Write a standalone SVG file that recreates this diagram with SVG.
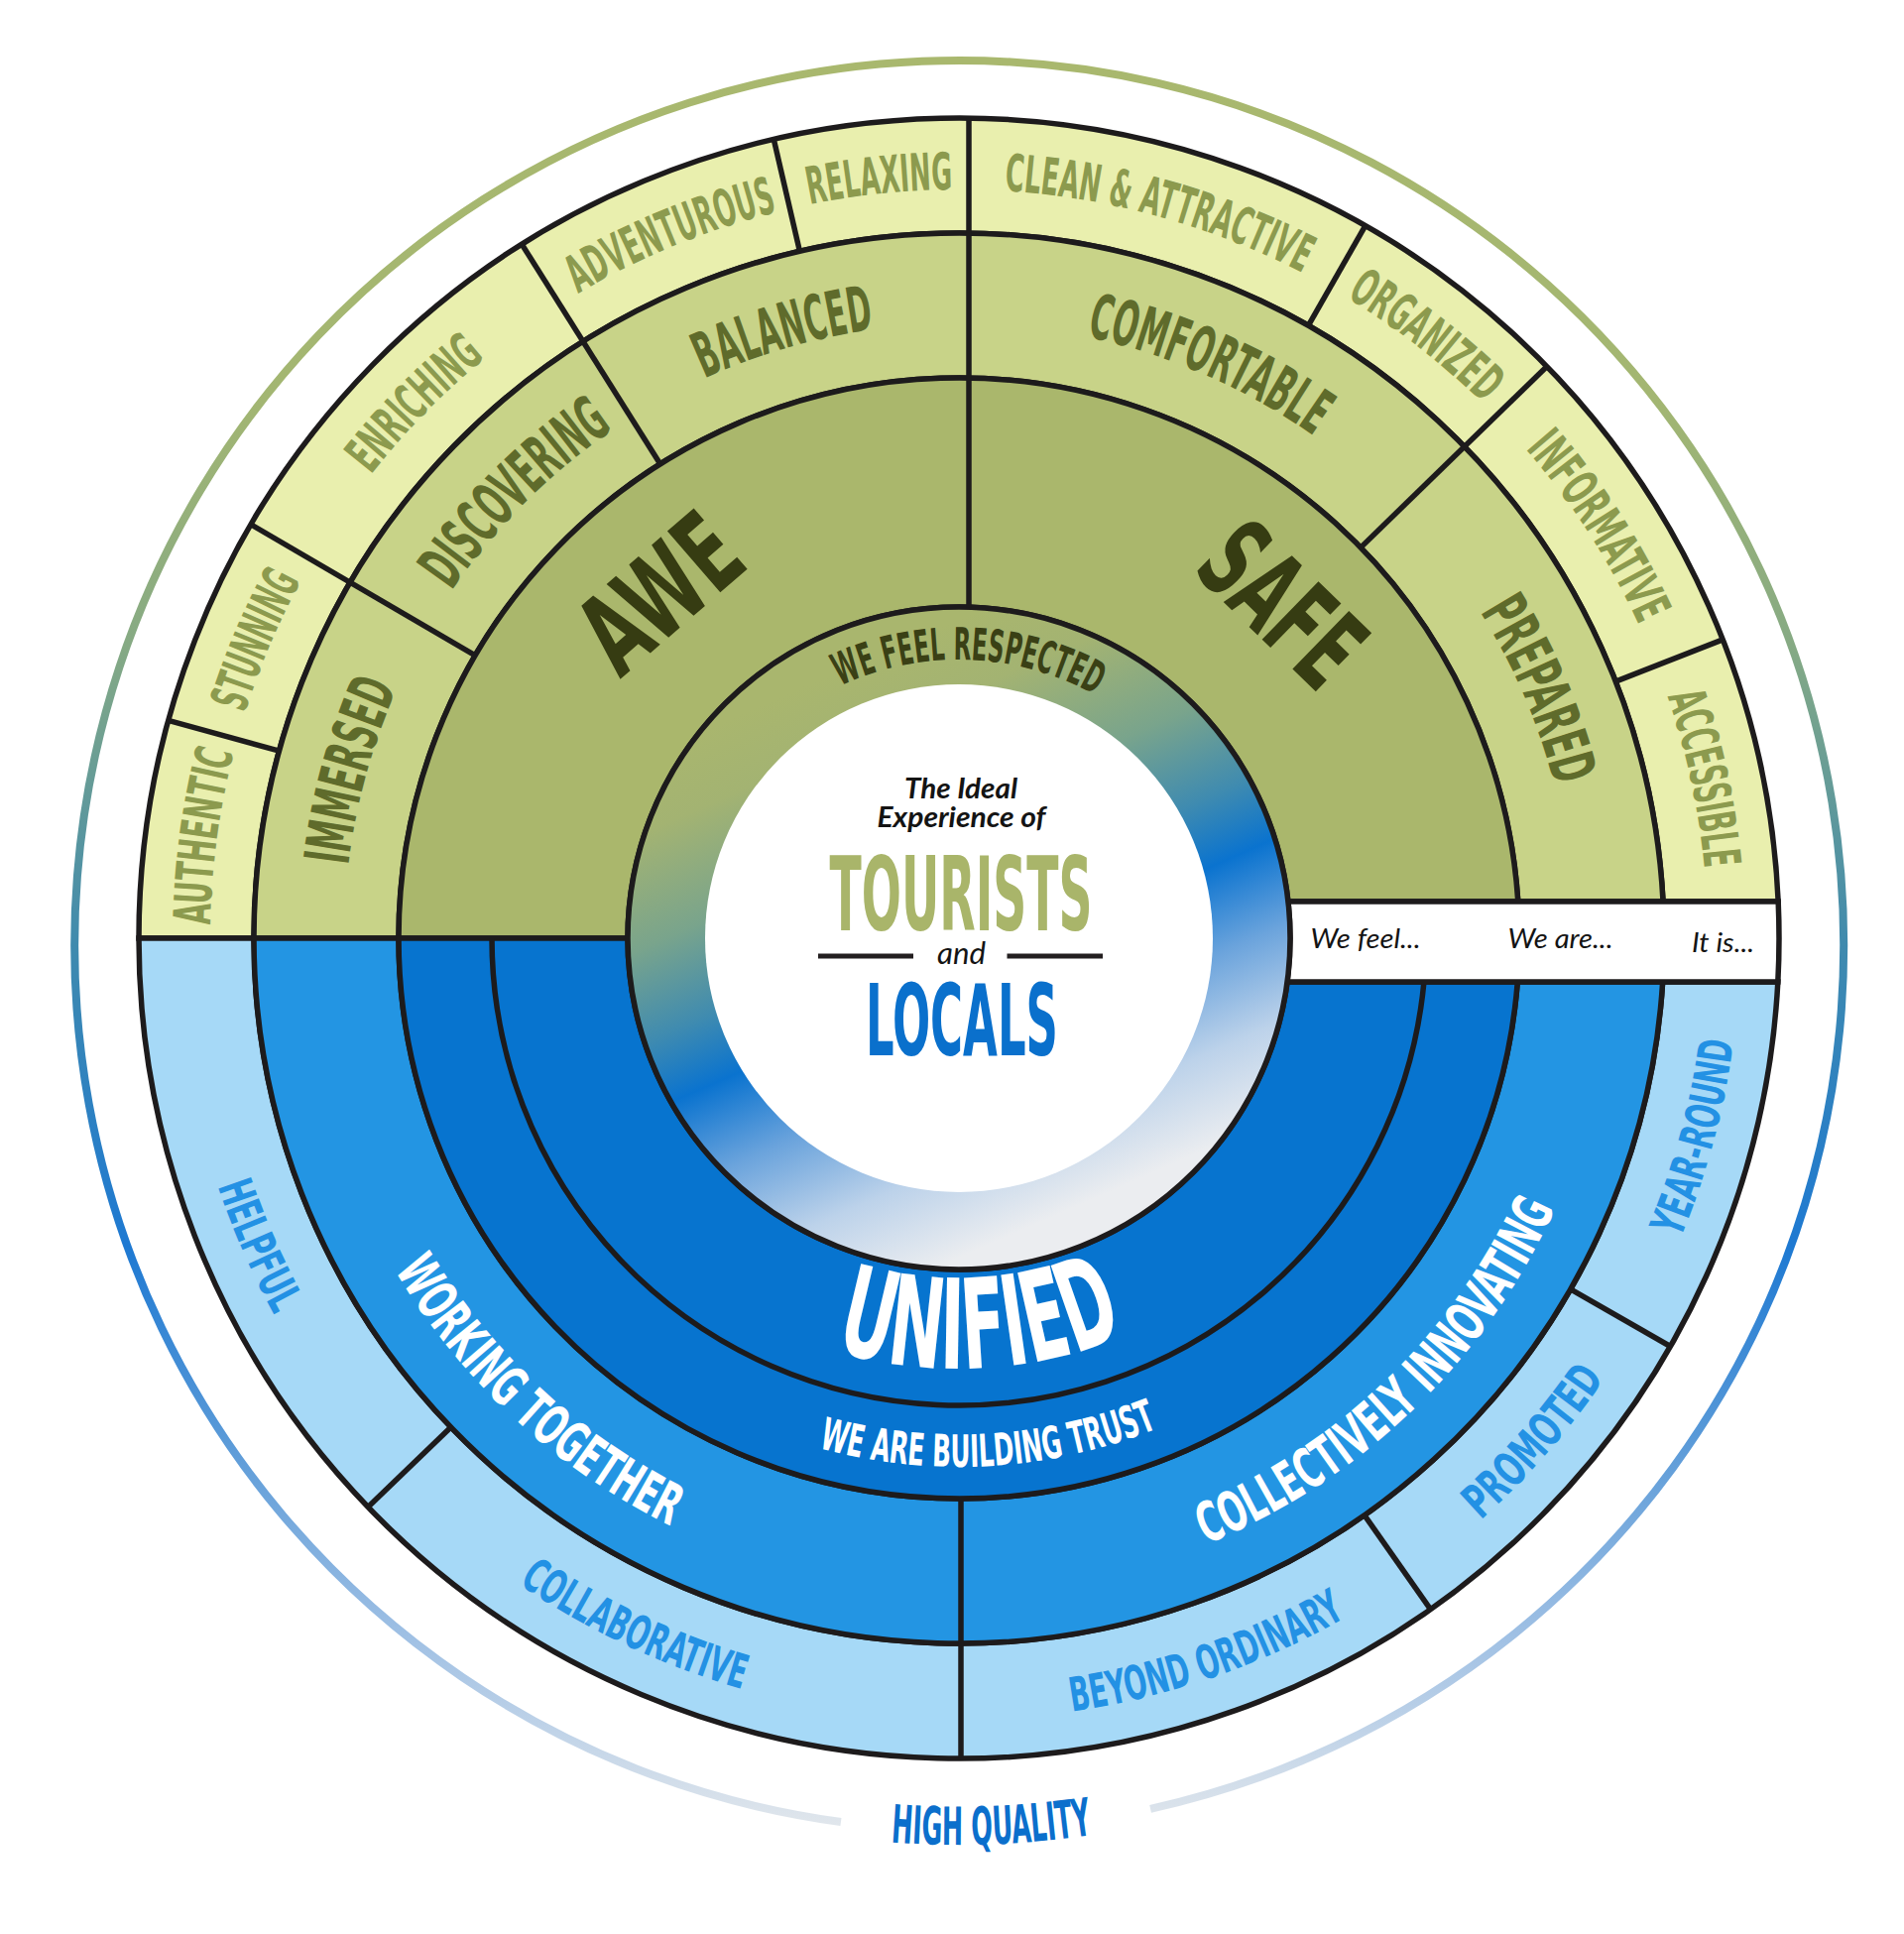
<svg xmlns="http://www.w3.org/2000/svg" width="1920" height="1950" viewBox="0 0 1920 1950">
<defs>
<style>
.ln{fill:none;stroke:#1d1b1c;stroke-width:5.5;stroke-linecap:butt}
.band{stroke:#1d1b1c;stroke-width:5.5;stroke-linejoin:miter}
.g3{fill:#e9efae}.g2{fill:#c8d388}.g1{fill:#aab76c}
.b3{fill:#a6d9f7}.b2{fill:#2395e3}.b1{fill:#0774cf}
.t{font-family:"Liberation Sans Narrow","DejaVu Sans Condensed","Liberation Sans",Arial,sans-serif;font-weight:700;text-anchor:middle}
.tg3{fill:#8c9a4e;font-size:52px}
.tg2{fill:#5f6b2b;font-size:63px}
.tg1{fill:#363c12;font-size:112px}
.tb3{fill:#2391e4;font-size:47.5px}
.tw{fill:#ffffff}
.it{font-family:Lato,"Open Sans","Liberation Sans",sans-serif;font-style:italic;fill:#141414}
</style>
<linearGradient id="ringGrad" gradientUnits="userSpaceOnUse" x1="849" y1="675.5" x2="1085" y2="1216.5">
<stop offset="0" stop-color="#a9b66e"/>
<stop offset="0.12" stop-color="#a3b372"/>
<stop offset="0.3" stop-color="#79a48c"/>
<stop offset="0.45" stop-color="#3f8bb0"/>
<stop offset="0.56" stop-color="#0a73cf"/>
<stop offset="0.7" stop-color="#6aa3dc"/>
<stop offset="0.85" stop-color="#bcd2ea"/>
<stop offset="1" stop-color="#ebedf0"/>
</linearGradient>
<linearGradient id="arcGrad" gradientUnits="userSpaceOnUse" x1="0" y1="62" x2="0" y2="1845">
<stop offset="0" stop-color="#a9b86e"/>
<stop offset="0.19" stop-color="#a3b672"/>
<stop offset="0.33" stop-color="#86aa84"/>
<stop offset="0.5" stop-color="#3f8aae"/>
<stop offset="0.67" stop-color="#1e79d2"/>
<stop offset="0.78" stop-color="#5a9ad8"/>
<stop offset="0.89" stop-color="#9fc0e4"/>
<stop offset="1" stop-color="#e2e7ec"/>
</linearGradient>
<path id="p-authentic" d="M 229.32 1106.84 A 755 755 0 0 1 298.53 595.05"/>
<path id="p-stunning" d="M 213.04 906.48 A 755 755 0 0 1 414.83 431.09"/>
<path id="p-enriching" d="M 279.98 632.91 A 755 755 0 0 1 641.97 264.55"/>
<path id="p-adventurous" d="M 458.87 387.58 A 755 755 0 0 1 936.70 191.61"/>
<path id="p-relaxing" d="M 636.03 267.42 A 755 755 0 0 1 1149.65 213.42"/>
<path id="p-clean" d="M 841.09 201.57 A 755 755 0 0 1 1456.33 371.03"/>
<path id="p-organized" d="M 1197.81 227.14 A 755 755 0 0 1 1605.87 543.68"/>
<path id="p-informative" d="M 1423.99 345.02 A 755 755 0 0 1 1703.24 778.73"/>
<path id="p-accessible" d="M 1606.58 544.79 A 755 755 0 0 1 1714.83 1049.77"/>
<path id="p-immersed" d="M 348.99 995.72 A 620 620 0 0 1 461.62 586.85"/>
<path id="p-discovering" d="M 396.71 702.75 A 620 620 0 0 1 725.75 374.86"/>
<path id="p-balanced" d="M 600.83 445.68 A 620 620 0 0 1 1008.08 327.37"/>
<path id="p-comfortable" d="M 962.67 326.01 A 620 620 0 0 1 1424.85 527.93"/>
<path id="p-prepared" d="M 1418.96 521.58 A 620 620 0 0 1 1586.03 911.39"/>
<path id="p-respected" d="M 813.96 710.33 A 281 281 0 0 1 1136.11 721.58"/>
<path id="p-unified" d="M 769.97 1332.70 A 434 434 0 0 0 1203.37 1309.98"/>
<path id="p-trust" d="M 744.70 1430.43 A 533 533 0 0 0 1244.31 1401.18"/>
<path id="p-working" d="M 355.71 1194.82 A 660 660 0 0 0 764.68 1574.23"/>
<path id="p-innovating" d="M 1125.55 1586.68 A 660 660 0 0 0 1601.11 1129.02"/>
<path id="p-helpful" d="M 187.97 1064.52 A 788 788 0 0 0 351.62 1438.16"/>
<path id="p-collaborative" d="M 427.57 1520.43 A 788 788 0 0 0 868.24 1727.78"/>
<path id="p-beyond" d="M 980.75 1733.88 A 788 788 0 0 0 1441.23 1575.33"/>
<path id="p-promoted" d="M 1405.36 1600.81 A 788 788 0 0 0 1674.25 1293.91"/>
<path id="p-yearround" d="M 1648.74 1341.19 A 788 788 0 0 0 1754.99 947.38"/>
<path id="p-quality" d="M 688.22 1816.09 A 907 907 0 0 0 1308.23 1793.36"/>
</defs>

<rect width="1920" height="1950" fill="#ffffff"/>

<g id="outer-arc">
<path d="M 1160.1 1823.9 A 892 892 0 1 0 847.95 1837.0" fill="none" stroke="url(#arcGrad)" stroke-width="8"/>
</g>

<g id="bands">
<path class="band g3" d="M 140 946 A 827 827 0 0 1 1793.17 909 L 1677.04 909 A 711 711 0 0 0 256 946 Z"/>
<path class="band g2" d="M 256 946 A 711 711 0 0 1 1677.04 909 L 1530.79 909 A 565 565 0 0 0 402 946 Z"/>
<path class="band g1" d="M 402 946 A 565 565 0 0 1 1530.79 909 L 1298.94 909 A 334 334 0 0 0 633 946 Z"/>
<path class="band b3" d="M 140 946 A 827 827 0 0 0 1792.83 990 L 1676.64 990 A 711 711 0 0 1 256 946 Z"/>
<path class="band b2" d="M 256 946 A 711 711 0 0 0 1676.64 990 L 1530.28 990 A 565 565 0 0 1 402 946 Z"/>
<path class="band b1" d="M 402 946 A 565 565 0 0 0 1530.28 990 L 1298.09 990 A 334 334 0 0 1 633 946 Z"/>
<path class="ln" d="M 496 946 A 471 471 0 0 0 1435.94 990"/>
</g>

<g id="legend-strip">
<path class="band" fill="#ffffff" d="M 1298.94 909 L 1793.17 909 A 827 827 0 0 1 1792.83 990 L 1298.09 990 A 334 334 0 0 0 1298.94 909 Z"/>
<text class="it" x="1321.5" y="956" font-size="27" textLength="111" lengthAdjust="spacingAndGlyphs">We feel...</text>
<text class="it" x="1520.5" y="956" font-size="27" textLength="106" lengthAdjust="spacingAndGlyphs">We are...</text>
<text class="it" x="1706" y="960" font-size="27" textLength="63" lengthAdjust="spacingAndGlyphs">It is...</text>
</g>

<g id="center">
<circle cx="967" cy="946" r="334" fill="url(#ringGrad)" stroke="#1d1b1c" stroke-width="5.5"/>
<circle cx="967" cy="946" r="256" fill="#ffffff"/>
<text class="it" x="969" y="805" font-size="28" font-weight="700" text-anchor="middle" textLength="114" lengthAdjust="spacingAndGlyphs">The Ideal</text>
<text class="it" x="969.5" y="834" font-size="28" font-weight="700" text-anchor="middle" textLength="170" lengthAdjust="spacingAndGlyphs">Experience of</text>
<text class="t" x="969" y="938" font-size="104" fill="#a9b56a" textLength="265" lengthAdjust="spacingAndGlyphs">TOURISTS</text>
<line x1="825" y1="964" x2="921" y2="964" stroke="#231f20" stroke-width="5"/>
<line x1="1015.5" y1="964" x2="1112" y2="964" stroke="#231f20" stroke-width="5"/>
<text class="it" x="969.5" y="972" font-size="30" text-anchor="middle" textLength="49" lengthAdjust="spacingAndGlyphs">and</text>
<text class="t" x="970" y="1064" font-size="100.5" fill="#0a70cc" textLength="194" lengthAdjust="spacingAndGlyphs">LOCALS</text>
</g>

<g id="dividers">
<line class="ln" x1="977" y1="612.15" x2="977" y2="119.06"/>
<line class="ln" x1="281.52" y1="757.19" x2="169.69" y2="726.38"/>
<line class="ln" x1="479.21" y1="660.94" x2="253.02" y2="528.75"/>
<line class="ln" x1="665.85" y1="467.94" x2="526.21" y2="246.26"/>
<line class="ln" x1="806.46" y1="253.37" x2="780.26" y2="140.36"/>
<line class="ln" x1="1319.27" y1="328.40" x2="1376.75" y2="227.64"/>
<line class="ln" x1="1372.05" y1="552.10" x2="1559.88" y2="369.44"/>
<line class="ln" x1="1629.22" y1="687.16" x2="1737.26" y2="644.93"/>
<line class="ln" x1="969" y1="1511" x2="969" y2="1773"/>
<line class="ln" x1="454.69" y1="1439.01" x2="371.11" y2="1519.44"/>
<line class="ln" x1="1375.83" y1="1527.70" x2="1442.53" y2="1622.61"/>
<line class="ln" x1="1583.74" y1="1299.77" x2="1684.36" y2="1357.49"/>
</g>

<g id="we-feel-respected"><text class="t" font-size="45" fill="#3a4015"><textPath href="#p-respected" startOffset="50%" textLength="267" lengthAdjust="spacingAndGlyphs">WE FEEL RESPECTED</textPath></text></g>

<g id="awe"><text class="t tg1" transform="translate(665.28 597.44) rotate(-40.9)" x="0" y="40" textLength="175" lengthAdjust="spacingAndGlyphs">AWE</text></g>
<g id="safe"><text class="t tg1" transform="translate(1293.36 609.17) rotate(44.1)" x="0" y="40" textLength="180" lengthAdjust="spacingAndGlyphs">SAFE</text></g>

<g id="immersed"><text class="t tg2"><textPath href="#p-immersed" startOffset="50%" textLength="186" lengthAdjust="spacingAndGlyphs">IMMERSED</textPath></text></g>
<g id="discovering"><text class="t tg2"><textPath href="#p-discovering" startOffset="50%" textLength="232" lengthAdjust="spacingAndGlyphs">DISCOVERING</textPath></text></g>
<g id="balanced"><text class="t tg2"><textPath href="#p-balanced" startOffset="50%" textLength="179" lengthAdjust="spacingAndGlyphs">BALANCED</textPath></text></g>
<g id="comfortable"><text class="t tg2"><textPath href="#p-comfortable" startOffset="50%" textLength="252" lengthAdjust="spacingAndGlyphs">COMFORTABLE</textPath></text></g>
<g id="prepared"><text class="t tg2"><textPath href="#p-prepared" startOffset="50%" textLength="192" lengthAdjust="spacingAndGlyphs">PREPARED</textPath></text></g>

<g id="authentic"><text class="t tg3"><textPath href="#p-authentic" startOffset="50%" textLength="176" lengthAdjust="spacingAndGlyphs">AUTHENTIC</textPath></text></g>
<g id="stunning"><text class="t tg3"><textPath href="#p-stunning" startOffset="50%" textLength="145" lengthAdjust="spacingAndGlyphs">STUNNING</textPath></text></g>
<g id="enriching"><text class="t tg3"><textPath href="#p-enriching" startOffset="50%" textLength="165" lengthAdjust="spacingAndGlyphs">ENRICHING</textPath></text></g>
<g id="adventurous"><text class="t tg3"><textPath href="#p-adventurous" startOffset="50%" textLength="218" lengthAdjust="spacingAndGlyphs">ADVENTUROUS</textPath></text></g>
<g id="relaxing"><text class="t tg3"><textPath href="#p-relaxing" startOffset="50%" textLength="145" lengthAdjust="spacingAndGlyphs">RELAXING</textPath></text></g>
<g id="clean-attractive"><text class="t tg3"><textPath href="#p-clean" startOffset="50%" textLength="314" lengthAdjust="spacingAndGlyphs">CLEAN &amp; ATTRACTIVE</textPath></text></g>
<g id="organized"><text class="t tg3"><textPath href="#p-organized" startOffset="50%" textLength="175" lengthAdjust="spacingAndGlyphs">ORGANIZED</textPath></text></g>
<g id="informative"><text class="t tg3"><textPath href="#p-informative" startOffset="50%" textLength="212" lengthAdjust="spacingAndGlyphs">INFORMATIVE</textPath></text></g>
<g id="accessible"><text class="t tg3"><textPath href="#p-accessible" startOffset="50%" textLength="178" lengthAdjust="spacingAndGlyphs">ACCESSIBLE</textPath></text></g>

<g id="unified"><text class="t tw" font-size="126"><textPath href="#p-unified" startOffset="50%" textLength="300" lengthAdjust="spacingAndGlyphs">UNIFIED</textPath></text></g>
<g id="building-trust"><text class="t tw" font-size="45"><textPath href="#p-trust" startOffset="50%" textLength="349" lengthAdjust="spacingAndGlyphs">WE ARE BUILDING TRUST</textPath></text></g>
<g id="working-together"><text class="t tw" font-size="56"><textPath href="#p-working" startOffset="50%" textLength="385" lengthAdjust="spacingAndGlyphs">WORKING TOGETHER</textPath></text></g>
<g id="collectively-innovating"><text class="t tw" font-size="56"><textPath href="#p-innovating" startOffset="50%" textLength="500" lengthAdjust="spacingAndGlyphs">COLLECTIVELY INNOVATING</textPath></text></g>

<g id="helpful"><text class="t tb3"><textPath href="#p-helpful" startOffset="50%" textLength="142" lengthAdjust="spacingAndGlyphs">HELPFUL</textPath></text></g>
<g id="collaborative"><text class="t tb3"><textPath href="#p-collaborative" startOffset="50%" textLength="250" lengthAdjust="spacingAndGlyphs">COLLABORATIVE</textPath></text></g>
<g id="beyond-ordinary"><text class="t tb3"><textPath href="#p-beyond" startOffset="50%" textLength="294" lengthAdjust="spacingAndGlyphs">BEYOND ORDINARY</textPath></text></g>
<g id="promoted"><text class="t tb3"><textPath href="#p-promoted" startOffset="50%" textLength="190" lengthAdjust="spacingAndGlyphs">PROMOTED</textPath></text></g>
<g id="year-round"><text class="t tb3"><textPath href="#p-yearround" startOffset="50%" textLength="206" lengthAdjust="spacingAndGlyphs">YEAR-ROUND</textPath></text></g>

<g id="high-quality"><text class="t" font-size="53" fill="#0b6fcc"><textPath href="#p-quality" startOffset="50%" textLength="204" lengthAdjust="spacingAndGlyphs">HIGH QUALITY</textPath></text></g>
</svg>
